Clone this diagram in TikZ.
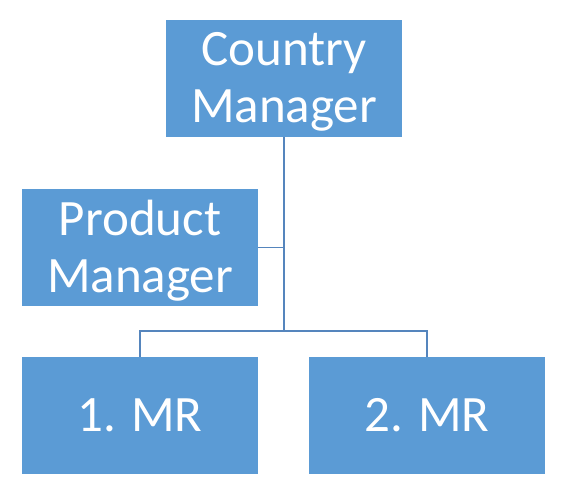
\documentclass[tikz,border=0pt]{standalone}
\usepackage{fontspec}
\setmainfont{Carlito}
\definecolor{boxblue}{HTML}{5B9BD5}
\definecolor{lineblue}{HTML}{5585BD}
\begin{document}
\begin{tikzpicture}[x=1pt,y=-1pt,
  box/.style={draw=none,fill=boxblue,text=white,minimum width=236pt,minimum height=117pt,
    inner sep=0pt,align=center,font=\fontsize{51}{57}\selectfont},
  lbl/.style={text=white,inner sep=0pt,align=center,font=\fontsize{51}{57}\selectfont},
  conn/.style={draw=lineblue,line width=1.2pt}]
\useasboundingbox (0,0) rectangle (567,477);
\node[box] (cm) at (284,78.5) {};
\node[lbl] (cmt) at (284,82) {Country\\Manager};
\node[box] (pm) at (140,247.5) {};
\node[lbl] (pmt) at (140,251) {Product\\Manager};
\node[box] (m1) at (140,415.5) {1. MR};
\node[box] (m2) at (427,415.5) {2. MR};
\coordinate (bus) at (284,331);
\draw[conn] (cm.south) -- (bus);
\draw[conn] (pm.east) -- (pm.east -| cm.south);
\draw[conn] (m1.north) |- (bus) -| (m2.north);
\end{tikzpicture}
\end{document}
